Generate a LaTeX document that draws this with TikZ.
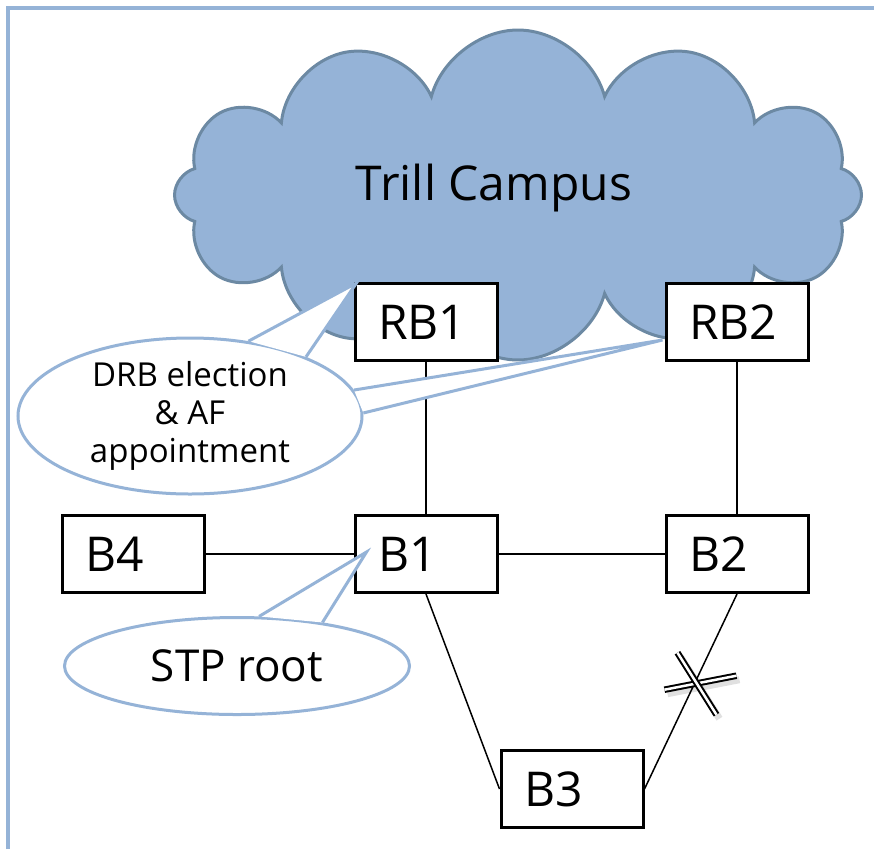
\documentclass[tikz,border=0pt]{standalone}
\usepackage{fontspec}
\setmainfont{Open Sans}
\usepackage{xcolor}
\usetikzlibrary{positioning, shapes.symbols, shapes.geometric}
\definecolor{frameblue}{RGB}{149,179,215}
\definecolor{cloudline}{RGB}{108,137,163}

\begin{document}
\begin{tikzpicture}[x=1pt, y=-1pt,
    box/.style={draw, line width=3pt, fill=white, minimum height=77pt, text width=96pt,
      inner xsep=23pt, inner ysep=0pt, align=left, font=\fontsize{48}{52}\selectfont},
    link/.style={line width=1.5pt},
    bubble/.style={ellipse, draw=frameblue, line width=3pt, fill=white, inner sep=0pt, align=center},
    pointer/.style={draw=frameblue, line width=3pt, fill=white, line join=miter},
    cutline/.style={line width=2pt, double=white, double distance=2.5pt},
    cutshadow/.style={line width=7pt, black, opacity=0.12}]
        \useasboundingbox (0,0) rectangle (874,849);
        \draw[frameblue, line width=4pt] (8,849) -- (8,8) -- (874,8);
        \node[cloud, cloud puffs=12, aspect=2, draw=cloudline, fill=frameblue, line width=3pt,
          minimum width=687pt, minimum height=330pt] (campus) at (518,195) {};
        \node[font=\fontsize{48}{52}\selectfont] (campuslabel) at (494,188) {Trill Campus};
        \node[box] (RB1) at (426,322) {RB1};
        \node[box] (RB2) at (737,322) {RB2};
        \node[box] (B4) at (133,554) {B4};
        \node[box] (B1) at (426,554) {B1};
        \node[box] (B2) at (737,554) {B2};
        \node[box] (B3) at (572,789) {B3};
        \draw[link] (RB1) -- (B1);
        \draw[link] (RB2) -- (B2);
        \draw[link] (B4) -- (B1);
        \draw[link] (B1) -- (B2);
        \draw[link] (B1.south) -- (B3.west);
        \draw[link] (B2.south) -- coordinate[pos=0.46] (cut) (B3.east);
        \draw[cutshadow] ([shift={(-27,10)}]cut) -- ([shift={(45,-4)}]cut);
        \draw[cutshadow] ([shift={(-14,-27)}]cut) -- ([shift={(25,35)}]cut);
        \draw[cutline] ([shift={(-30,6)}]cut) -- ([shift={(42,-8)}]cut);
        \draw[cutline] ([shift={(-17,-31)}]cut) -- ([shift={(22,31)}]cut);
        \node[bubble, minimum width=344pt, minimum height=156pt, font=\fontsize{33}{38}\selectfont]
          (drb) at (190,416) {DRB election\\\& AF\\appointment};
        \path[pointer] (drb.52) -- ([shift={(3,1)}]RB1.north west) -- (drb.27.5);
        \path[pointer] (drb.9) -- ([shift={(-2,18)}]RB2.west) -- (drb.1);
        \node[bubble, minimum width=345pt, minimum height=97pt, font=\fontsize{44}{48}\selectfont]
          (stp) at (237,666) {STP root};
        \path[pointer] (stp.66) -- ([shift={(13,-2)}]B1.west) -- (stp.27);
\end{tikzpicture}
\end{document}
